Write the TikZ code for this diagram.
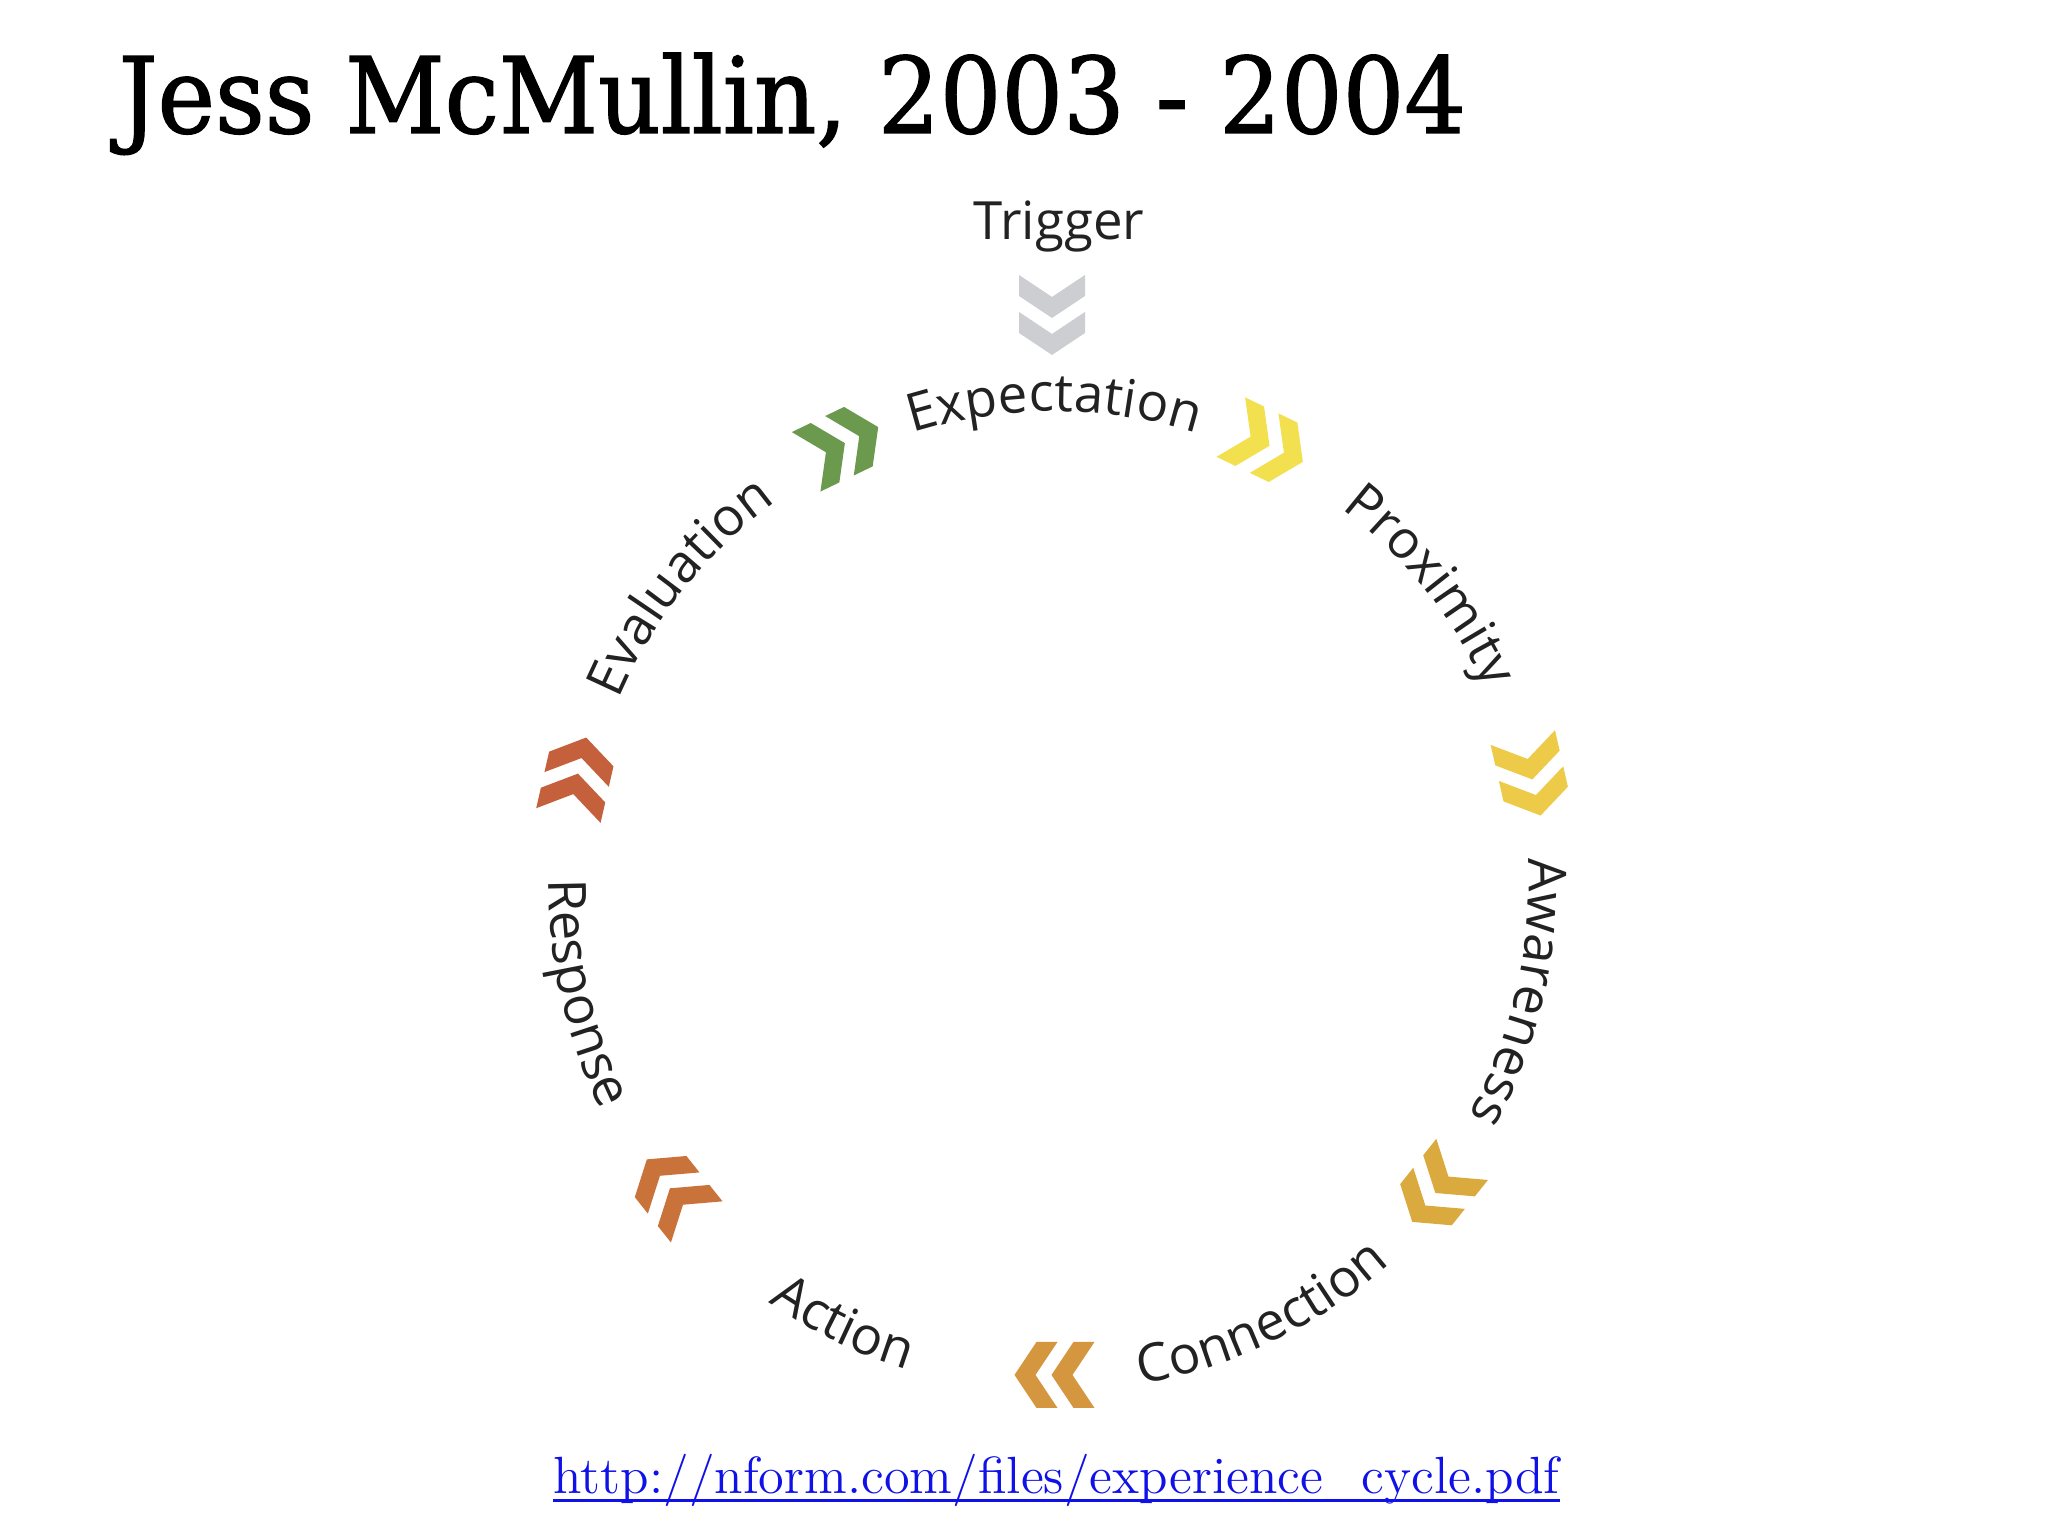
\documentclass[tikz,border=0pt]{standalone}
\usepackage{fontspec}
\usepackage{tikz}
\usetikzlibrary{decorations.text, positioning}
\newfontfamily\stagefamily{Open Sans}
\newfontfamily\titlefamily[FakeStretch=0.92, FakeBold=1.2]{DejaVu Serif}
\definecolor{stageText}{HTML}{222222}
\definecolor{linkblue}{HTML}{1010E8}
\definecolor{chGray}{HTML}{CDCED2}
\definecolor{chGreen}{HTML}{6B9A4E}
\definecolor{chYellow}{HTML}{F3E04F}
\definecolor{chSun}{HTML}{EDCB48}
\definecolor{chGold}{HTML}{DBAA3E}
\definecolor{chAmber}{HTML}{D4963F}
\definecolor{chOrange}{HTML}{C9733A}
\definecolor{chRust}{HTML}{C4603B}
\newcommand{\stagefont}{\stagefamily\fontsize{15}{18}\selectfont\color{stageText}}
\tikzstyle{stagelabel}=[inner sep=0pt, font=\stagefont]
\tikzstyle{titletext}=[anchor=base west, inner sep=0pt, font=\titlefamily\fontsize{30}{36}\selectfont]
\tikzstyle{linktext}=[anchor=base west, inner sep=0pt, text=linkblue, font=\fontsize{14.9}{17}\selectfont]
% double chevron: position, direction, colour
\newcommand{\chevrons}[3]{
    \begin{scope}[shift={#1}, rotate=#2]
        \foreach \s in {0.40,0.03}
            \fill[#3, xshift=\s cm] (0,0) -- (-0.22,0.33) -- (-0.43,0.33) -- (-0.21,0)
                -- (-0.43,-0.33) -- (-0.22,-0.33) -- cycle;
    \end{scope}
}
% stage names along the ring: angle, text
\newcommand{\outerStage}[2]{
    \path[decorate, decoration={text along path, text align=center, text={|\stagefont|#2}}]
        ([shift={(#1+28:4.74)}]c) arc[start angle=#1+28, end angle=#1-28, radius=4.74];
}
\newcommand{\innerStage}[2]{
    \path[decorate, decoration={text along path, text align=center, text={|\stagefont|#2}}]
        ([shift={(#1-28:5.06)}]c) arc[start angle=#1-28, end angle=#1+28, radius=5.06];
}

\begin{document}
\begin{tikzpicture}
    \useasboundingbox[fill=white] (0,0) rectangle (20.48,15.36);

    % Title
    \node[titletext] (title) at (1.18,14.03) {Jess McMullin, 2003 - 2004};

    % Centre of the cycle
    \coordinate (c) at (10.545,6.505);

    % Trigger
    \node[stagelabel] (trigger) at (10.59,13.09) {Trigger};
    \chevrons{([yshift=-0.88cm, xshift=-0.07cm]trigger.center)}{-90}{chGray}

    % Chevrons between the stages
    \foreach \a/\col in {115.71/chGreen, 64.29/chYellow, 12.86/chSun, -38.57/chGold,
                         -90/chAmber, -141.43/chOrange, 167.14/chRust} {
        \chevrons{([shift={(\a:4.895)}]c)}{\a-90}{\col}
    }

    % Stages
    \outerStage{90}{Expectation}
    \outerStage{38.57}{Proximity}
    \outerStage{-12.86}{Awareness}
    \innerStage{-64.29}{Connection}
    \innerStage{-115.71}{Action}
    \innerStage{-167.14}{Response}
    \outerStage{141.43}{Evaluation}

    % Link
    \node[linktext] (url) at (5.53,0.42) {http://nform.com/files/experience\_cycle.pdf};
    \draw[linkblue, line width=0.8pt] ([yshift=-1.8pt]url.base west) -- ([yshift=-1.8pt]url.base east);
\end{tikzpicture}
\end{document}
